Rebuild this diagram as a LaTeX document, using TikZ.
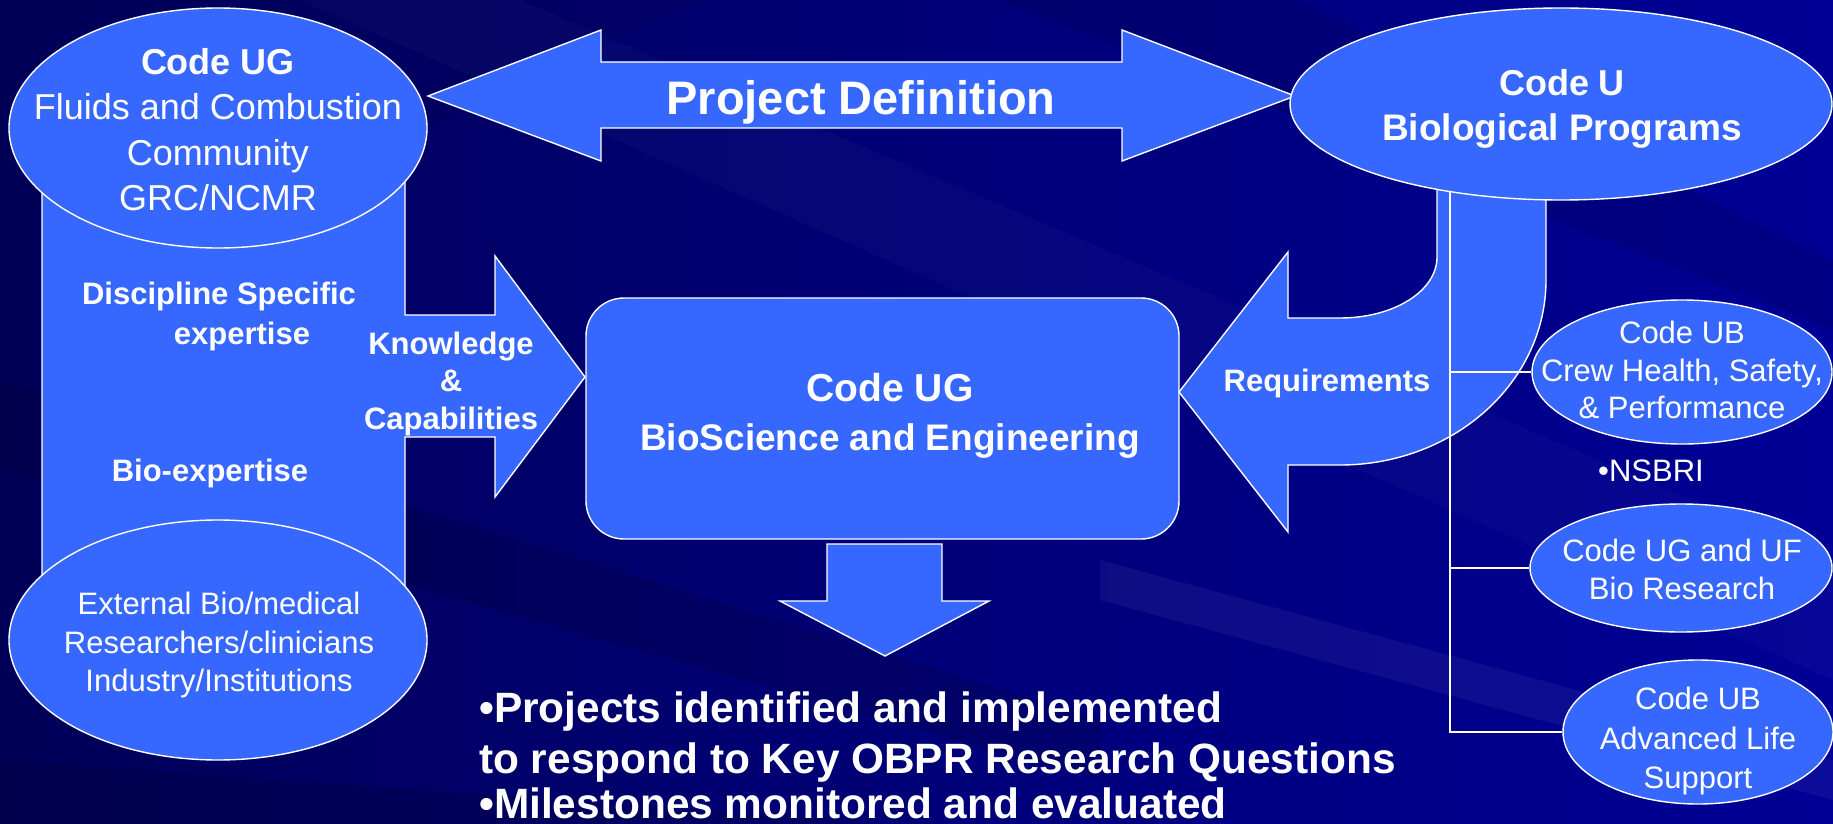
\documentclass[tikz,border=0pt]{standalone}
\usepackage{fontspec}
\setmainfont{Liberation Sans}
\usetikzlibrary{shapes.geometric}
\definecolor{bgmid}{RGB}{0,0,125}
\definecolor{bgdark}{RGB}{0,0,88}
\definecolor{bglight}{RGB}{0,0,150}
\definecolor{fillb}{RGB}{54,104,255}
\newcommand{\fsz}[1]{\fontsize{#1}{#1}\selectfont}
\begin{document}
\begin{tikzpicture}[x=1pt,y=-1pt,
  blob/.style={fill=fillb,draw=white,line width=1.4pt,line join=miter},
  oval/.style={blob,ellipse,inner sep=0pt},
  tline/.style={draw=white,line width=1.4pt},
  t/.style={text=white,inner sep=0pt,anchor=base},
  tl/.style={text=white,inner sep=0pt,anchor=base west},
  rg/.style={font=\fsz{31}},
  rgl/.style={font=\fsz{36}},
  bd/.style={font=\fsz{31}\bfseries},
  bdl/.style={font=\fsz{36}\bfseries}]
% background
\useasboundingbox (0,0) rectangle (1833,824);
\shade[left color=bgdark, right color=bglight] (0,0) rectangle (1833,824);
\fill[bgdark,opacity=0.35] (0,0) -- (700,0) -- (0,330) -- cycle;
\fill[white,opacity=0.025] (300,0) -- (520,0) -- (1833,560) -- (1833,680) -- cycle;
\fill[black,opacity=0.12] (0,380) -- (0,470) -- (1100,780) -- (1100,720) -- cycle;
\fill[white,opacity=0.05] (1100,560) -- (1833,760) -- (1833,800) -- (1100,600) -- cycle;
\fill[black,opacity=0.12] (0,700) -- (0,824) -- (900,824) -- (0,760) -- cycle;
\fill[black,opacity=0.1] (1000,0) -- (1300,0) -- (1833,260) -- (1833,330) -- cycle;

% left column with Knowledge arrow
\draw[blob] (42,128) -- (405,128) -- (405,315) -- (495,315) -- (495,256) -- (585,377)
  -- (495,497) -- (495,437) -- (405,437) -- (405,640) -- (42,640) -- cycle;
\node[oval,minimum width=418pt,minimum height=240pt] (fcom) at (218,128) {};
\node[oval,minimum width=418pt,minimum height=240pt] (ext) at (218,640) {};

% Project Definition double arrow
\draw[blob] (428,96) -- (601,30) -- (601,62) -- (1122,62) -- (1122,30) -- (1295,96)
  -- (1122,161) -- (1122,128) -- (601,128) -- (601,161) -- cycle;

% centre box
\node[blob,rounded corners=38pt,minimum width=593pt,minimum height=241pt,inner sep=0pt] (bse) at (882.5,418.5) {};

% down arrow
\draw[blob] (827,544) -- (942,544) -- (942,601) -- (989,601) -- (885,656) -- (780,601) -- (827,601) -- cycle;

% Requirements bent arrow
\draw[blob] (1437,170) -- (1437,257) .. controls (1437,291) and (1394,318) .. (1340,318)
  -- (1288,318) -- (1288,252) -- (1179,392) -- (1288,532) -- (1288,465) -- (1340,465)
  .. controls (1454,465) and (1546,382) .. (1546,280) -- (1546,170) -- cycle;

% Code U ellipse
\node[oval,minimum width=542pt,minimum height=192pt] (cu) at (1561,104) {};

% right-hand ellipses
\node[oval,minimum width=300pt,minimum height=144pt] (crew) at (1682,372) {};
\node[oval,minimum width=302pt,minimum height=128pt] (ugf) at (1681,568) {};
\node[oval,minimum width=270pt,minimum height=144pt] (als) at (1698,732) {};

% tree connectors
\coordinate (trunk) at (1450,192);
\draw[tline] (trunk) |- (als.west);
\draw[tline] (trunk |- crew.west) -- (crew.west);
\draw[tline] (trunk |- ugf.west) -- (ugf.west);

% texts: left
\node[t,bdl] (fc1) at (218,75) {Code UG};
\node[t,rgl] (fc2) at (218,120) {Fluids and Combustion};
\node[t,rgl] (fc3) at (218,165) {Community};
\node[t,rgl] (fc4) at (218,210) {GRC/NCMR};
\node[t,bd] (ds1) at (219,304) {Discipline Specific};
\node[t,bd] (ds2) at (242,344) {expertise};
\node[t,bd] (be) at (210,481) {Bio-expertise};
\node[t,bd] (kc1) at (451,354) {Knowledge};
\node[t,bd] (kc2) at (451,391) {\&};
\node[t,bd] (kc3) at (451,429) {Capabilities};
\node[t,rg] (ex1) at (219,614) {External Bio/medical};
\node[t,rg] (ex2) at (219,653) {Researchers/clinicians};
\node[t,rg] (ex3) at (219,691) {Industry/Institutions};

% texts: top and centre
\node[t,font=\fsz{47}\bfseries] (pd) at (861,114) {Project Definition};
\node[t,font=\fsz{39}\bfseries] (bs1) at (890,401) {Code UG};
\node[t,font=\fsz{37}\bfseries] (bs2) at (890,450) {BioScience and Engineering};
\node[t,bd] (req) at (1327,391) {Requirements};
\node[t,bdl] (cu1) at (1562,96) {Code U};
\node[t,font=\fsz{37}\bfseries] (cu2) at (1562,141) {Biological Programs};

% texts: right
\node[t,rg] (cr1) at (1682,343) {Code UB};
\node[t,rg] (cr2) at (1682,381) {Crew Health, Safety,};
\node[t,rg] (cr3) at (1682,418) {\& Performance};
\node[t,rg] (ns) at (1651,481) {•NSBRI};
\node[t,rg] (ug1) at (1682,561) {Code UG and UF};
\node[t,rg] (ug2) at (1682,599) {Bio Research};
\node[t,rg] (al1) at (1698,709) {Code UB};
\node[t,rg] (al2) at (1698,749) {Advanced Life};
\node[t,rg] (al3) at (1698,788) {Support};

% bottom text
\node[tl,font=\fsz{42.4}\bfseries] (b1) at (479,722) {•Projects identified and implemented};
\node[tl,font=\fsz{42.4}\bfseries] (b2) at (479,773) {to respond to Key OBPR Research Questions};
\node[tl,font=\fsz{42.4}\bfseries] (b3) at (479,818) {•Milestones monitored and evaluated};
\end{tikzpicture}
\end{document}
